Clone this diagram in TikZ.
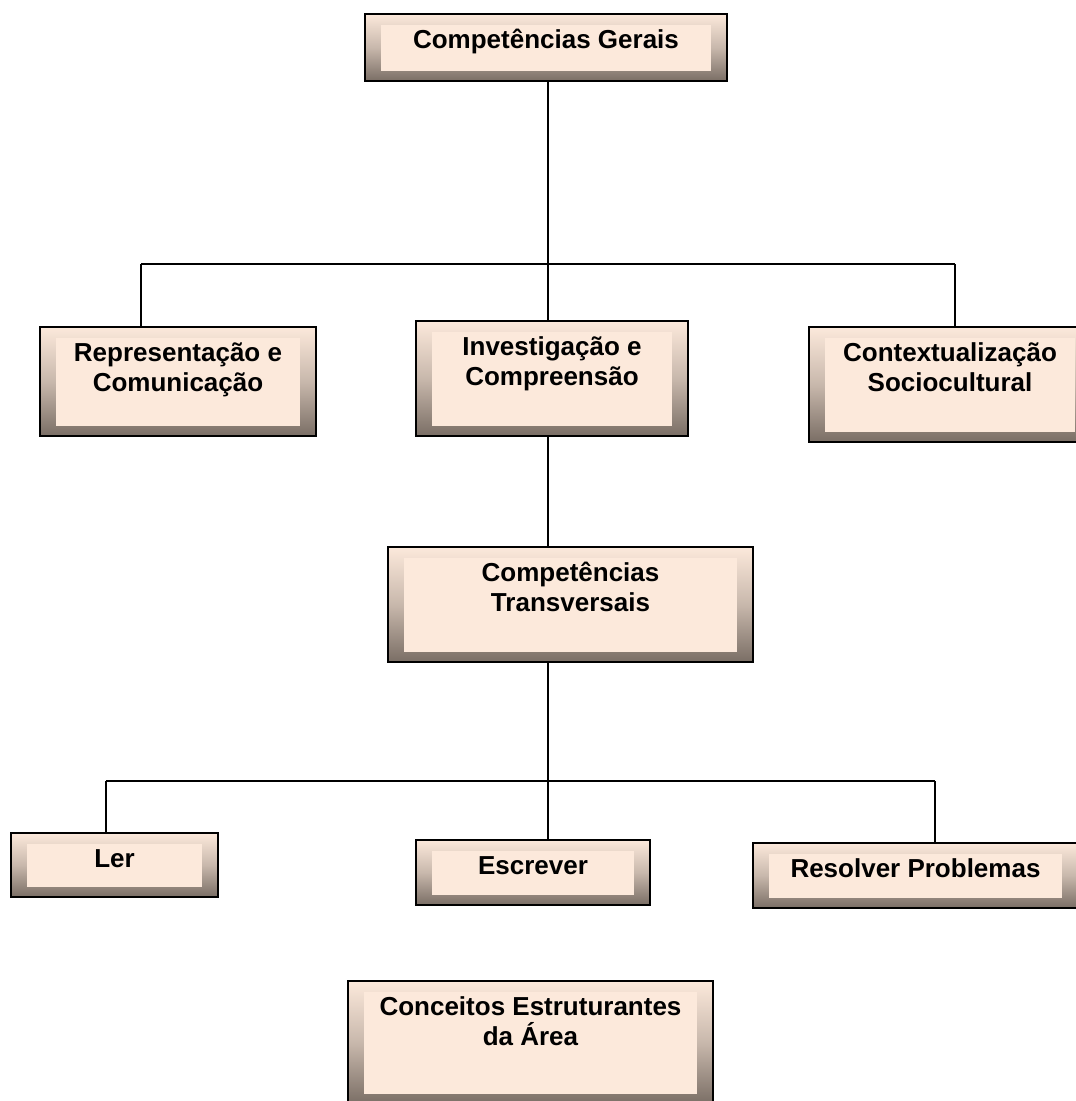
\documentclass[tikz,border=0pt]{standalone}
\usepackage{fontspec}
\setmainfont{Liberation Sans}
\definecolor{peach}{RGB}{252,233,219}
\definecolor{bevdark}{RGB}{122,110,101}
\tikzset{
  bevbox/.style={draw=black, line width=1.5pt, rectangle, inner sep=0pt,
    path picture={
      \shade[top color=peach, bottom color=bevdark, middle color=peach!60!bevdark]
        (path picture bounding box.north west) rectangle (path picture bounding box.south east);
      \fill[peach]
        ([shift={(16pt,-10.5pt)}]path picture bounding box.north west) rectangle
        ([shift={(-16pt,10.5pt)}]path picture bounding box.south east);
    }},
  boxtext/.style={anchor=north, inner sep=0pt, align=center,
    font=\fontsize{26}{30}\selectfont\bfseries},
  wire/.style={line width=1.6pt, black}
}
\newcommand{\firstline}{\rule{0pt}{26pt}}
\begin{document}
\begin{tikzpicture}[x=1pt, y=-1pt]
  \useasboundingbox (0,0) rectangle (1076,1101);

  % boxes
  \node[bevbox, minimum width=362, minimum height=67]  (cg)  at (546,47.5)    {};
  \node[bevbox, minimum width=276, minimum height=109] (rc)  at (178,381.5)   {};
  \node[bevbox, minimum width=272, minimum height=115] (ic)  at (552,378.5)   {};
  \node[bevbox, minimum width=282, minimum height=115] (cs)  at (950,384.5)   {};
  \node[bevbox, minimum width=365, minimum height=115] (ct)  at (570.5,604.5) {};
  \node[bevbox, minimum width=207, minimum height=64]  (ler) at (114.5,865)   {};
  \node[bevbox, minimum width=234, minimum height=65]  (esc) at (533,872.5)   {};
  \node[bevbox, minimum width=325, minimum height=65]  (res) at (915.5,875.5) {};
  \node[bevbox, minimum width=365, minimum height=123] (cea) at (530.5,1042.5){};

  % labels
  \node[boxtext] (cgt)  at ([yshift=-9pt]cg.north)  {\firstline Competências Gerais};
  \node[boxtext] (rct)  at ([yshift=-9pt]rc.north)  {\firstline Representação e\\Comunicação};
  \node[boxtext] (ict)  at ([yshift=-9pt]ic.north)  {\firstline Investigação e\\Compreensão};
  \node[boxtext] (cst)  at ([yshift=-9pt]cs.north)  {\firstline Contextualização\\Sociocultural};
  \node[boxtext] (ctt)  at ([yshift=-9pt]ct.north)  {\firstline Competências\\Transversais};
  \node[boxtext] (lert) at ([yshift=-9pt]ler.north) {\firstline Ler};
  \node[boxtext] (esct) at ([yshift=-9pt]esc.north) {\firstline Escrever};
  \node[boxtext] (rest) at ([yshift=-9pt]res.north) {\firstline Resolver Problemas};
  \node[boxtext] (ceat) at ([yshift=-9pt]cea.north) {\firstline Conceitos Estruturantes\\da Área};

  % bus junctions
  \coordinate (t1)  at (548,264);
  \coordinate (b1l) at (141,264);
  \coordinate (b1r) at (955,264);
  \coordinate (t2)  at (548,781);
  \coordinate (b2l) at (106,781);
  \coordinate (b2r) at (935,781);

  % upper tree
  \draw[wire] (t1 |- cg.south) -- (t1);
  \draw[wire] (b1l) -- (b1r);
  \draw[wire] (b1l) -- (b1l |- rc.north);
  \draw[wire] (t1)  -- (t1 |- ic.north);
  \draw[wire] (b1r) -- (b1r |- cs.north);
  \draw[wire] (t1 |- ic.south) -- (t1 |- ct.north);

  % lower tree
  \draw[wire] (t2 |- ct.south) -- (t2);
  \draw[wire] (b2l) -- (b2r);
  \draw[wire] (b2l) -- (b2l |- ler.north);
  \draw[wire] (t2)  -- (t2 |- esc.north);
  \draw[wire] (b2r) -- (b2r |- res.north);
\end{tikzpicture}
\end{document}
